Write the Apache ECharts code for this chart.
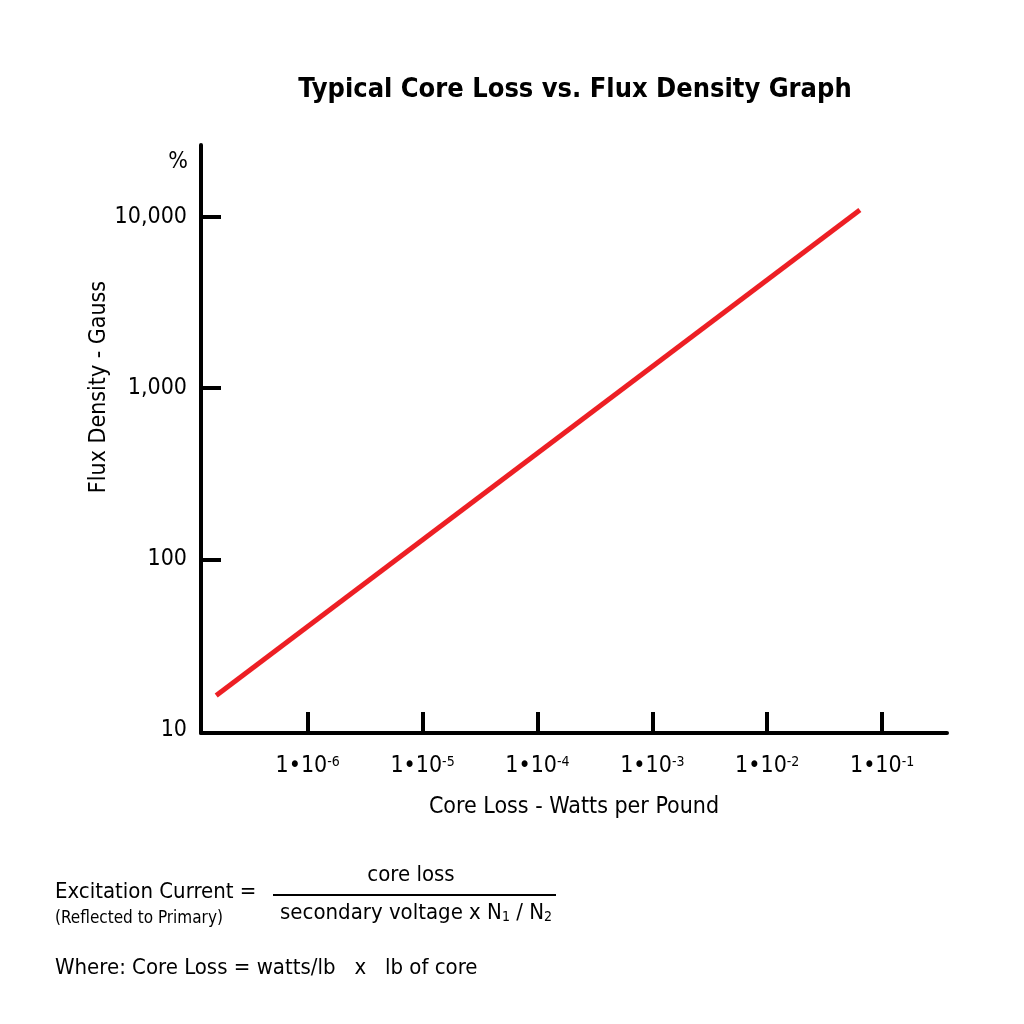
<!DOCTYPE html>
<html>
<head>
<meta charset="utf-8">
<script src="https://cdn.jsdelivr.net/npm/echarts@6/dist/echarts.min.js"></script>
<style>
    html, body { margin: 0; padding: 0; background: #fff; }
    #main { width: 1024px; height: 1024px; }
</style>
</head>
<body>
<div id="main"></div>
<script type="text/javascript">
    // values (log-log straight line, two end points)
    var coreLoss = [1.6e-7, 6.4e-2];        // watts per pound
    var fluxDensity = [16, 11000];          // gauss
    var xTicks = [1e-6, 1e-5, 1e-4, 1e-3, 1e-2, 1e-1];
    var yTicks = [100, 1000, 10000];
    var yLabels = [10, 100, 1000, 10000];

    var FONT = "'Liberation Sans Narrow', 'DejaVu Sans Condensed', 'Noto Sans', sans-serif";

    var lineData = [];
    for (var i = 0; i < coreLoss.length; i++) {
        lineData.push([coreLoss[i], fluxDensity[i]]);
    }

    var myChart = echarts.init(document.getElementById('main'));

    var option = {
        backgroundColor: '#fff',
        animation: false,
        title: {
            text: 'Typical Core Loss vs. Flux Density Graph',
            left: 570,
            top: 71,
            textAlign: 'center',
            textStyle: { fontFamily: FONT, fontWeight: 'bold', fontSize: 27, color: '#000' }
        },
        grid: { left: 201, right: 77, top: 145, bottom: 291, containLabel: false },
        xAxis: {
            type: 'log',
            logBase: 10,
            min: 1.18e-7,
            max: 0.367,
            name: 'Core Loss - Watts per Pound',
            nameLocation: 'middle',
            nameGap: 63,
            nameMoveOverlap: false,
            nameTextStyle: { fontFamily: FONT, fontSize: 23, color: '#000' },
            axisLine: { show: true, onZero: false, lineStyle: { color: '#000', width: 4 } },
            axisTick: { show: true, inside: true, length: 21, customValues: xTicks,
                        lineStyle: { color: '#000', width: 4 } },
            axisLabel: {
                customValues: xTicks,
                margin: 22,
                formatter: function (v) {
                    var e = Math.round(Math.log10(v));
                    return '{a|1\u202210}{b|' + e + '}';
                },
                rich: {
                    a: { fontFamily: FONT, fontSize: 23, color: '#000' },
                    b: { fontFamily: FONT, fontSize: 14, color: '#000', verticalAlign: 'top' }
                }
            },
            splitLine: { show: false }
        },
        yAxis: {
            type: 'log',
            logBase: 10,
            min: 9.66,
            max: 26400,
            name: 'Flux Density - Gauss',
            nameLocation: 'middle',
            nameGap: 90,
            nameMoveOverlap: false,
            nameTextStyle: { fontFamily: FONT, fontSize: 23, color: '#000', padding: [0, 0, 0, 104] },
            axisLine: { show: true, onZero: false, lineStyle: { color: '#000', width: 4 } },
            axisTick: { show: true, inside: true, length: 20, customValues: yTicks,
                        lineStyle: { color: '#000', width: 4 } },
            axisLabel: {
                customValues: yLabels,
                margin: 14,
                fontFamily: FONT,
                fontSize: 23,
                color: '#000',
                formatter: function (v) {
                    return Math.round(v).toLocaleString('en-US');
                }
            },
            splitLine: { show: false }
        },
        series: [{
            type: 'line',
            data: lineData,
            symbol: 'none',
            lineStyle: { color: '#ED1F24', width: 5 }
        }],
        graphic: [
            { type: 'text', x: 178, y: 162,
              style: { text: '%', font: '23px ' + FONT, fill: '#000', align: 'center', verticalAlign: 'middle' } },
            { type: 'text', x: 55, y: 892,
              style: { text: 'Excitation Current =', font: '22px ' + FONT, fill: '#000', align: 'left', verticalAlign: 'middle' } },
            { type: 'text', x: 55, y: 919,
              style: { text: '(Reflected to Primary)', font: '17px ' + FONT, fill: '#000', align: 'left', verticalAlign: 'middle' } },
            { type: 'text', x: 411, y: 875,
              style: { text: 'core loss', font: '22px ' + FONT, fill: '#000', align: 'center', verticalAlign: 'middle' } },
            { type: 'line', shape: { x1: 273, y1: 895, x2: 556, y2: 895 },
              style: { stroke: '#000', lineWidth: 2 } },
            { type: 'text', x: 416, y: 913,
              style: {
                  text: '{n|secondary voltage x N}{s|1}{n| / N}{s|2}',
                  align: 'center', verticalAlign: 'middle',
                  rich: {
                      n: { font: '22px ' + FONT, fill: '#000' },
                      s: { font: '14px ' + FONT, fill: '#000', verticalAlign: 'bottom' }
                  }
              } },
            { type: 'text', x: 55, y: 968,
              style: { text: 'Where: Core Loss = watts/lb   x   lb of core', font: '22px ' + FONT, fill: '#000', align: 'left', verticalAlign: 'middle' } }
        ]
    };

    myChart.setOption(option);
</script>
</body>
</html>
